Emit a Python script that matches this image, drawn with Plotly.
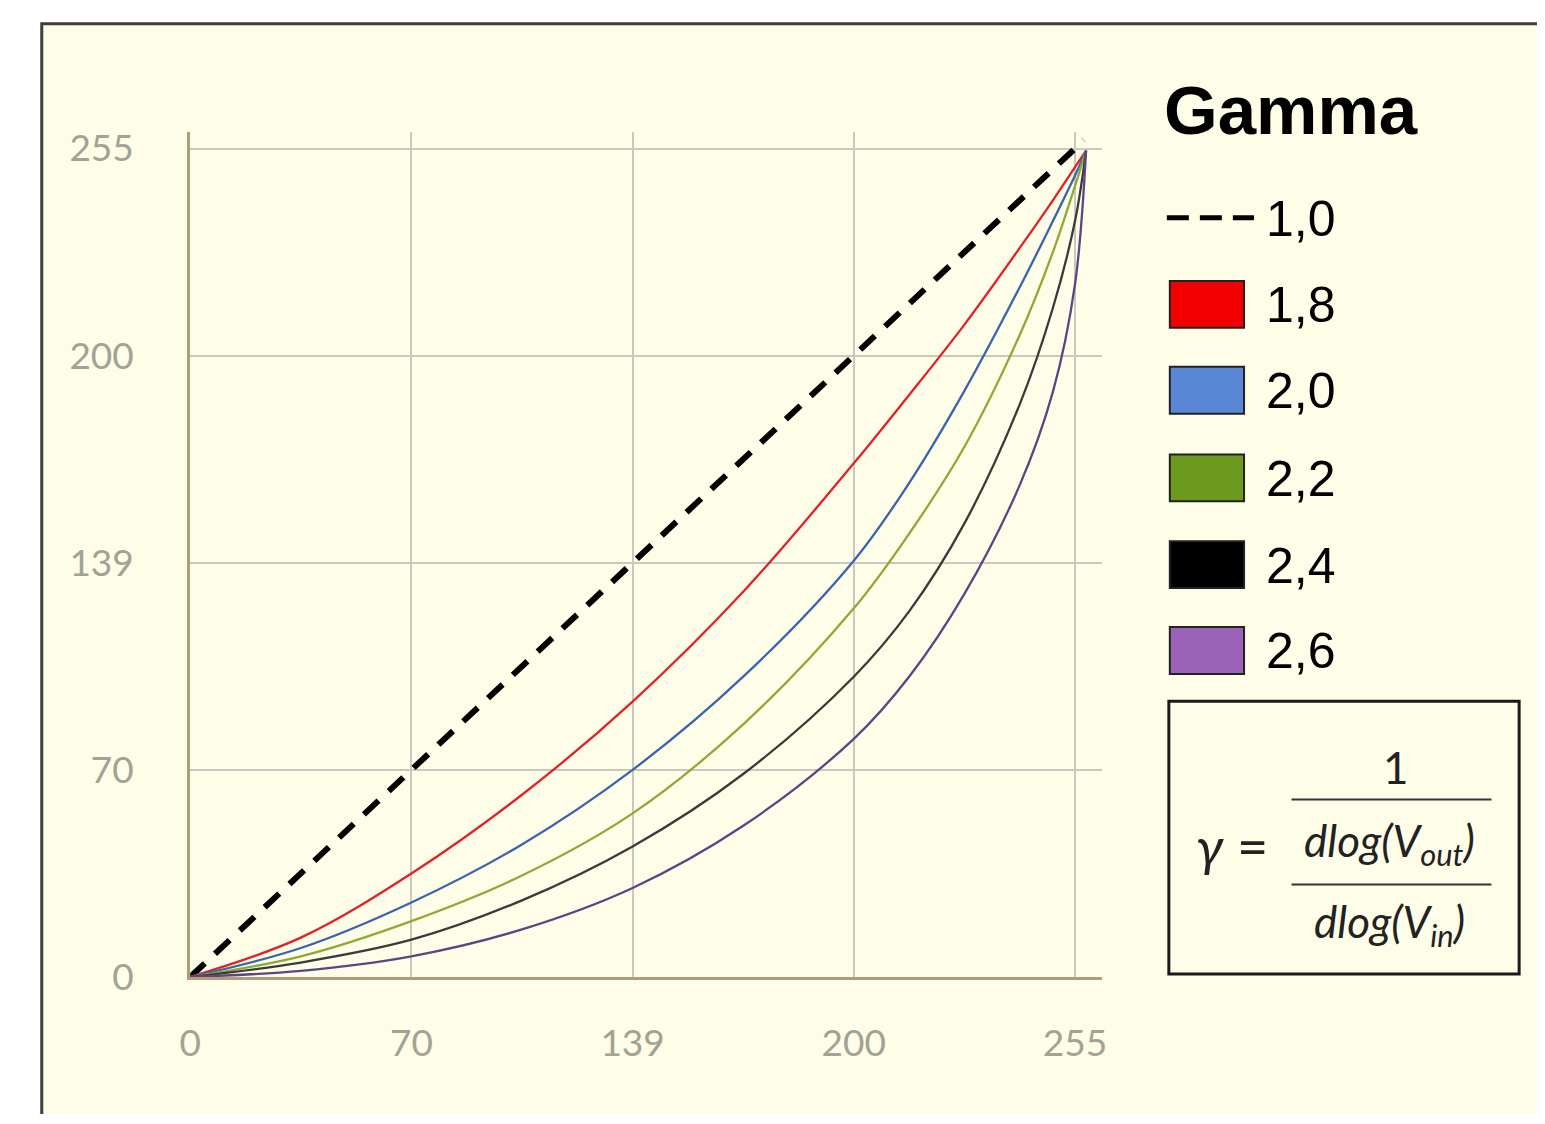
import plotly.graph_objects as go

OFF = 8            # default page body margin
W, H = 1529, 1106  # figure size so the page fits the 1545x1124 window

# ---- data (grid units: tick index along each axis) ----
tick_pos = [0, 1, 2, 3, 4]
tick_labels = ["0", "70", "139", "200", "255"]

x_in = [0, 0.5, 1.0, 1.5, 2.0, 2.5, 3.0, 3.25, 3.5, 3.75, 3.9, 4.0, 4.05]
y_g18 = [0, 0.19, 0.50, 0.88, 1.33, 1.86, 2.48, 2.81, 3.15, 3.52, 3.75, 3.91, 3.99]
y_g20 = [0, 0.14, 0.36, 0.64, 1.00, 1.45, 2.01, 2.385, 2.83, 3.33, 3.65, 3.87, 3.99]
y_g22 = [0, 0.10, 0.27, 0.49, 0.79, 1.22, 1.78, 2.14, 2.56, 3.10, 3.50, 3.82, 3.99]
y_g24 = [0, 0.07, 0.18, 0.37, 0.63, 0.98, 1.45, 1.765, 2.19, 2.765, 3.23, 3.65, 3.99]
y_g26 = [0, 0.03, 0.10, 0.23, 0.43, 0.73, 1.15, 1.45, 1.85, 2.375, 2.825, 3.345, 3.99]
x_linear = [0, 4.04]
y_linear = [0, 4.04]

legend_labels = ["1,0", "1,8", "2,0", "2,2", "2,4", "2,6"]
legend_title = "Gamma"

curve_colors = ["#E0222B", "#3A64AE", "#8FAA34", "#3A3A3A", "#5C4485"]
swatch_colors = ["#F20000", "#5A86D6", "#6B9A1E", "#000000", "#9A63B8"]

fig = go.Figure()

fig.add_trace(go.Scatter(x=x_linear, y=y_linear, mode="lines",
                         line=dict(color="black", width=6, dash="20px,14px"),
                         showlegend=False, hoverinfo="skip"))
for ys, col in zip([y_g18, y_g20, y_g22, y_g24, y_g26], curve_colors):
    fig.add_trace(go.Scatter(x=x_in, y=ys, mode="lines",
                             line=dict(color=col, width=2.3, shape="spline", smoothing=1.0),
                             showlegend=False, hoverinfo="skip"))


def px(x):
    return (x - OFF) / W


def py(y):
    return 1 - (y - OFF) / H


shapes = []
annotations = []

# outer frame
shapes.append(dict(type="rect", xref="paper", yref="paper", layer="below",
                   x0=px(31), x1=1.05, y0=py(17), y1=-0.05,
                   line=dict(color="#3E3E3E", width=3), fillcolor="#FEFDE8"))

# legend title
annotations.append(dict(xref="paper", yref="paper", x=px(1163), y=py(106),
                        xanchor="left", yanchor="middle", showarrow=False,
                        text="<b>" + legend_title + "</b>",
                        font=dict(family="Liberation Sans, Arial", size=69, color="black")))

row_y = [216, 305, 393, 483, 572, 660]
# dashed legend sample
shapes.append(dict(type="line", xref="paper", yref="paper",
                   x0=px(1168), x1=px(1256), y0=py(row_y[0]), y1=py(row_y[0]),
                   line=dict(color="black", width=5, dash="22px,11px")))
for i, col in enumerate(swatch_colors):
    yc = row_y[i + 1]
    shapes.append(dict(type="rect", xref="paper", yref="paper",
                       x0=px(1171), x1=px(1246), y0=py(yc - 24), y1=py(yc + 24),
                       line=dict(color="#222222", width=2), fillcolor=col))
for lab, yc in zip(legend_labels, row_y):
    annotations.append(dict(xref="paper", yref="paper", x=px(1266), y=py(yc + 1),
                            xanchor="left", yanchor="middle", showarrow=False, text=lab,
                            font=dict(family="Liberation Sans, Arial", size=50, color="black")))

# formula box
shapes.append(dict(type="rect", xref="paper", yref="paper",
                   x0=px(1170), x1=px(1524), y0=py(712), y1=py(992),
                   line=dict(color="#1A1A1A", width=3), fillcolor="rgba(0,0,0,0)"))
for yl in [813, 900]:
    shapes.append(dict(type="line", xref="paper", yref="paper",
                       x0=px(1294), x1=px(1496), y0=py(yl), y1=py(yl),
                       line=dict(color="#333333", width=2)))
ffont = dict(family="Lato, Open Sans", size=44, color="#222222")
annotations.append(dict(xref="paper", yref="paper", x=px(1234), y=py(860),
                        xanchor="center", yanchor="middle", showarrow=False,
                        text="<i>γ</i> =", font=dict(family="Lato, Open Sans", size=54, color="#222222")))
annotations.append(dict(xref="paper", yref="paper", x=px(1400), y=py(780),
                        xanchor="center", yanchor="middle", showarrow=False,
                        text="1", font=ffont))
annotations.append(dict(xref="paper", yref="paper", x=px(1393), y=py(858),
                        xanchor="center", yanchor="middle", showarrow=False,
                        text="<i>dlog(V<sub>out</sub>)</i>", font=ffont))
annotations.append(dict(xref="paper", yref="paper", x=px(1393), y=py(941),
                        xanchor="center", yanchor="middle", showarrow=False,
                        text="<i>dlog(V<sub>in</sub>)</i>", font=ffont))

tickfont = dict(family="Lato, Open Sans", size=37, color="#A3A294")
axis_common = dict(tickvals=tick_pos, ticktext=tick_labels, tickfont=tickfont,
                   showgrid=True, gridcolor="#C9C9C0", gridwidth=2,
                   showline=True, linecolor="#B39C78", linewidth=3,
                   zeroline=False, ticks="", fixedrange=True)

fig.update_layout(
    width=W, height=H,
    margin=dict(l=0, r=0, t=0, b=0),
    paper_bgcolor="white",
    plot_bgcolor="#FEFDE8",
    xaxis=dict(range=[0, 4.12], domain=[(181 - OFF) / W, (1102 - OFF) / W],
               ticklabelstandoff=32, **axis_common),
    yaxis=dict(range=[0, 4.08], domain=[1 - (995 - OFF) / H, 1 - (128 - OFF) / H],
               ticklabelstandoff=46, **axis_common),
    shapes=shapes,
    annotations=annotations,
    showlegend=False,
)

fig.write_html("out.html")
